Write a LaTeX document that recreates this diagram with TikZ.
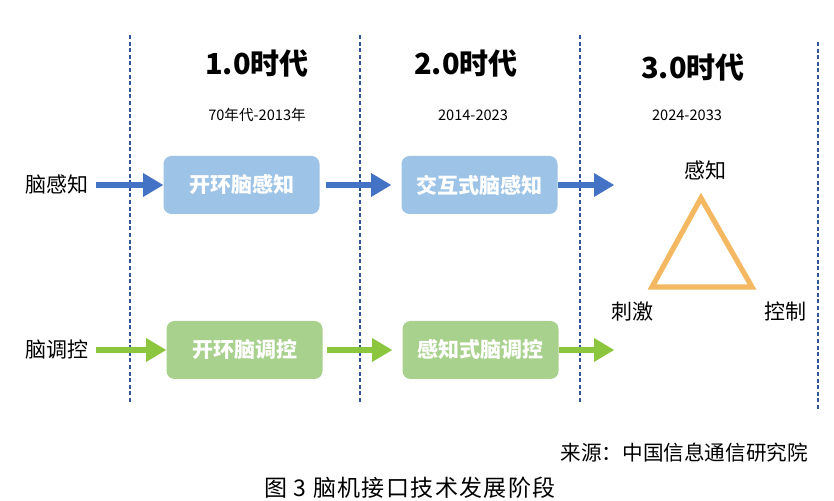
\documentclass[tikz,border=0pt]{standalone}
\usepackage{fontspec}
\setmainfont{Noto Sans CJK SC}
\usepackage{tikz}
\usetikzlibrary{arrows.meta,positioning,calc}

\definecolor{boxblau}{HTML}{9DC3E6}
\definecolor{pfeilblau}{HTML}{4472C4}
\definecolor{boxgruen}{HTML}{A9D18E}
\definecolor{pfeilgruen}{HTML}{8CC63F}
\definecolor{linie}{HTML}{2F5597}
\definecolor{dreieck}{HTML}{F4B862}

\begin{document}
\begin{tikzpicture}[x=0.5pt,y=-0.5pt,
	titel/.style={font=\bfseries\fontsize{14.5}{16}\selectfont},
	jahr/.style={font=\fontsize{7.3}{9}\selectfont},
	zeile/.style={font=\fontsize{10.5}{12}\selectfont},
	stufe/.style={rounded corners=4pt,minimum width=78pt,minimum height=29pt,text=white,font=\bfseries\fontsize{10.5}{12}\selectfont,inner sep=0pt},
	blau/.style={line width=3.3pt,draw=pfeilblau,-{Triangle[width=12pt,length=10pt,line width=0pt,fill=pfeilblau]}},
	gruen/.style={line width=3.3pt,draw=pfeilgruen,-{Triangle[width=12pt,length=10pt,line width=0pt,fill=pfeilgruen]}},
	trenn/.style={linie,line width=0.6pt,dash pattern=on 2pt off 1.3pt}]
	\useasboundingbox (0,0) rectangle (834,501);
	% Trennlinien
		\foreach \x/\a/\b in {130/35/404,360/35/404,580/35/404,818/42/410}
			\draw[trenn] (\x,\a) -- (\x,\b);
	% Knoten
		\node (t1) at (257,64) [titel] {1.0时代};
		\node (t2) at (466,64) [titel] {2.0时代};
		\node (t3) at (693,68) [titel] {3.0时代};
		\node (j1) at (257,115) [jahr] {70年代-2013年};
		\node (j2) at (473,115) [jahr] {2014-2023};
		\node (j3) at (687,115) [jahr] {2024-2033};
		\node (l1) at (57,185) [zeile] {脑感知};
		\node (l2) at (57,350) [zeile] {脑调控};
		\node (b1) at (241.5,185) [stufe,fill=boxblau] {开环脑感知};
		\node (b2) at (479.5,185) [stufe,fill=boxblau] {交互式脑感知};
		\node (b3) at (244.5,350) [stufe,fill=boxgruen] {开环脑调控};
		\node (b4) at (480.5,350) [stufe,fill=boxgruen] {感知式脑调控};
		\coordinate (e1) at (614,185);
		\coordinate (e2) at (614,350);
		\node (k1) at (705,170) [zeile] {感知};
		\node (k2) at (632,312) [zeile] {刺激};
		\node (k3) at (785,312) [zeile] {控制};
		\node (q) at (815,453) [anchor=east,font=\fontsize{10.3}{12}\selectfont] {来源：中国信息通信研究院};
		\node (cap) at (410,488) [font=\fontsize{11.5}{13}\selectfont\addfontfeatures{LetterSpace=6}] {图 3 脑机接口技术发展阶段};
	% Dreieck
		\draw[dreieck,line width=2.6pt,line join=miter] (701,198) -- (752,287) -- (652,287) -- cycle;
	% Kanten
		\draw[blau] (l1) -- (b1);
		\draw[blau,shorten <=3pt,shorten >=5pt] (b1) -- (b2);
		\draw[blau] (b2) -- (e1);
		\draw[gruen] (l2) -- (b3);
		\draw[gruen,shorten <=2pt,shorten >=5pt] (b3) -- (b4);
		\draw[gruen] (b4) -- (e2);
\end{tikzpicture}
\end{document}
